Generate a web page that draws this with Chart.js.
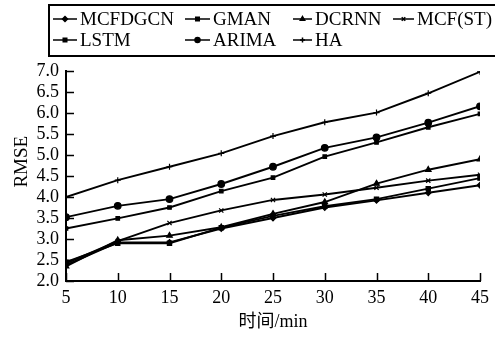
<!DOCTYPE html>
<html>
<head>
<meta charset="utf-8">
<script src="https://cdn.jsdelivr.net/npm/chart.js@4.4.0/dist/chart.umd.min.js"></script>
<style>
  html, body { margin: 0; padding: 0; background: #fff; }
  #wrap { width: 495px; height: 337px; }
</style>
</head>
<body>
<div id="wrap"><canvas id="myChart" width="495" height="337"></canvas></div>
<script>
// data
var minutes = [5, 10, 15, 20, 25, 30, 35, 40, 45];
var mcfdgcn = [2.38, 2.92, 2.92, 3.25, 3.50, 3.75, 3.92, 4.10, 4.28];
var gman    = [2.45, 2.90, 2.90, 3.27, 3.55, 3.78, 3.95, 4.20, 4.45];
var dcrnn   = [2.35, 2.97, 3.08, 3.28, 3.60, 3.88, 4.32, 4.65, 4.90];
var mcfst   = [2.42, 2.95, 3.38, 3.68, 3.93, 4.06, 4.22, 4.39, 4.53];
var lstm    = [3.25, 3.49, 3.75, 4.14, 4.46, 4.96, 5.30, 5.66, 5.98];
var arima   = [3.52, 3.79, 3.95, 4.31, 4.72, 5.17, 5.42, 5.77, 6.16];
var ha      = [4.00, 4.40, 4.72, 5.04, 5.45, 5.78, 6.01, 6.47, 6.98];
var yTicks = [2.0, 2.5, 3.0, 3.5, 4.0, 4.5, 5.0, 5.5, 6.0, 6.5, 7.0];
var xTicks = [5, 10, 15, 20, 25, 30, 35, 40, 45];

var serif = "'Liberation Serif', 'Times New Roman', 'Noto Sans CJK SC', serif";

function pts(vals) {
    return vals.map(function (v, i) { return { x: minutes[i], y: v }; });
}

function series(label, vals, style, r) {
    return {
        label: label,
        data: pts(vals),
        borderColor: '#000',
        backgroundColor: '#000',
        borderWidth: 1.9,
        pointStyle: style,
        pointRadius: r,
        pointBorderWidth: 1.2,
        tension: 0
    };
}

// boxed legend, 4 columns like the figure
var boxLegend = {
    id: 'boxLegend',
    afterDraw: function (chart) {
        var ctx = chart.ctx;
        ctx.save();
        ctx.strokeStyle = '#000';
        ctx.lineWidth = 2;
        ctx.strokeRect(49, 5, 470, 51);
        var lineX = [53, 185, 293, 393];
        var textX = [80, 213, 315, 417];
        var rowY = [19, 40];
        ctx.font = '19px ' + serif;
        ctx.textBaseline = 'middle';
        chart.data.datasets.forEach(function (ds, i) {
            var c = i % 4, y = rowY[Math.floor(i / 4)];
            var x0 = lineX[c], x1 = textX[c] - 3;
            ctx.strokeStyle = '#000';
            ctx.fillStyle = '#000';
            ctx.lineWidth = 1.5;
            ctx.beginPath();
            ctx.moveTo(x0, y);
            ctx.lineTo(x1, y);
            ctx.stroke();
            Chart.helpers.drawPoint(ctx, {
                pointStyle: ds.pointStyle, rotation: 0,
                radius: Math.min(ds.pointRadius, 2.5), borderWidth: 1
            }, (x0 + x1) / 2, y);
            ctx.fillText(ds.label, textX[c], y + 1);
        });
        ctx.restore();
    }
};

// tick marks pointing into the plot
var innerTicks = {
    id: 'innerTicks',
    afterDraw: function (chart) {
        var ctx = chart.ctx, a = chart.chartArea;
        var xs = chart.scales.x, ys = chart.scales.y;
        ctx.save();
        ctx.strokeStyle = '#000';
        ctx.lineWidth = 1.5;
        ctx.beginPath();
        yTicks.forEach(function (v) {
            var p = Math.round(ys.getPixelForValue(v)) + 0.5;
            ctx.moveTo(a.left, p);
            ctx.lineTo(a.left + 8, p);
        });
        xTicks.forEach(function (v) {
            var p = Math.round(xs.getPixelForValue(v)) + 0.5;
            ctx.moveTo(p, a.bottom);
            ctx.lineTo(p, a.bottom - 8);
        });
        ctx.stroke();
        ctx.restore();
    }
};

var ctx = document.getElementById('myChart').getContext('2d');
var chart = new Chart(ctx, {
    type: 'line',
    data: {
        datasets: [
            series('MCFDGCN', mcfdgcn, 'rectRot', 2.8),
            series('GMAN', gman, 'rect', 3),
            series('DCRNN', dcrnn, 'triangle', 3.2),
            series('MCF(ST)', mcfst, 'crossRot', 3),
            series('LSTM', lstm, 'rect', 2.5),
            series('ARIMA', arima, 'circle', 3.3),
            series('HA', ha, 'cross', 3)
        ]
    },
    options: {
        responsive: false,
        devicePixelRatio: 1,
        animation: false,
        layout: { padding: { top: 71, right: 13, left: 0, bottom: 0 } },
        plugins: {
            legend: { display: false },
            tooltip: { enabled: false }
        },
        scales: {
            x: {
                type: 'linear',
                min: 5,
                max: 45,
                afterBuildTicks: function (s) {
                    s.ticks = xTicks.map(function (v) { return { value: v }; });
                },
                afterFit: function (s) { s.height = 56; },
                grid: { display: false, drawTicks: false, tickLength: 0 },
                border: { color: '#000', width: 2 },
                ticks: {
                    color: '#000', padding: 6, maxRotation: 0, autoSkip: false,
                    font: { family: serif, size: 18 }
                },
                title: {
                    display: true,
                    text: '时间/min',
                    color: '#000',
                    font: { family: serif, size: 18 },
                    padding: { top: 0, bottom: 4 }
                }
            },
            y: {
                min: 2,
                max: 7,
                afterBuildTicks: function (s) {
                    s.ticks = yTicks.map(function (v) { return { value: v }; });
                },
                afterFit: function (s) { s.width = 66; },
                grid: { display: false, drawTicks: false, tickLength: 0 },
                border: { color: '#000', width: 2 },
                ticks: {
                    color: '#000', padding: 7, autoSkip: false,
                    font: { family: serif, size: 18 },
                    callback: function (v) { return v.toFixed(1); }
                },
                title: {
                    display: true,
                    text: '      RMSE',
                    color: '#000',
                    font: { family: serif, size: 19 },
                    padding: { top: 11, bottom: 0 }
                }
            }
        }
    },
    plugins: [boxLegend, innerTicks]
});
</script>
</body>
</html>
